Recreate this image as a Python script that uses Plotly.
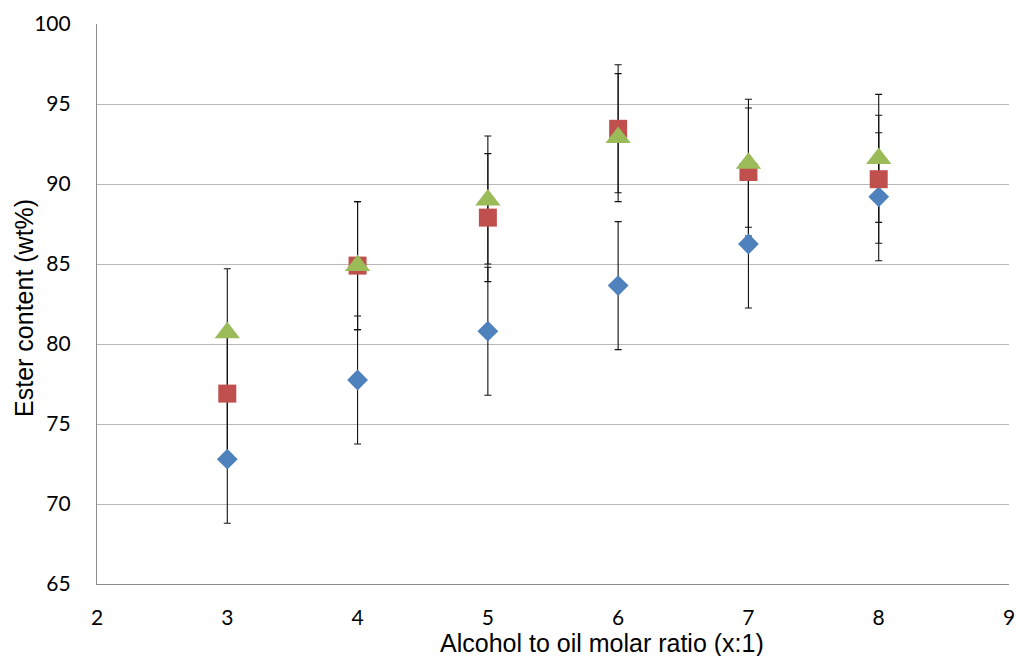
import plotly.graph_objects as go

ratios = [3, 4, 5, 6, 7, 8]
series_names = ["Series 1", "Series 2", "Series 3"]
blue_vals = [72.8, 77.75, 80.8, 83.65, 86.25, 89.2]
red_vals = [76.9, 84.9, 87.9, 93.45, 90.75, 90.3]
green_vals = [80.7, 84.9, 89.0, 92.9, 91.3, 91.6]
err_blue = [4, 4, 4, 4, 4, 4]
err_red = [4, 4, 4, 4, 4, 4]
err_green = [4, 4, 4, 4, 4, 4]
y_ticks = [65, 70, 75, 80, 85, 90, 95, 100]
x_ticks = [2, 3, 4, 5, 6, 7, 8, 9]
x_title = "Alcohol to oil molar ratio (x:1)"
y_title = "Ester content (wt%)"

colors = ["#4F81BD", "#C0504D", "#9BBB59"]
symbols = ["diamond", "square", "triangle-up"]
sizes = [16, 18, 22]
vals = [blue_vals, red_vals, green_vals]
errs = [err_blue, err_red, err_green]

fig = go.Figure()
# error bars first (so they sit below all markers)
for v, e in zip(vals, errs):
    fig.add_trace(go.Scatter(
        x=ratios, y=v, mode="markers",
        marker=dict(opacity=0, size=1),
        error_y=dict(type="data", array=e, visible=True, color="#111111",
                     thickness=1.1, width=3.5),
        showlegend=False, hoverinfo="skip"))
for name, v, c, s, sz in zip(series_names, vals, colors, symbols, sizes):
    fig.add_trace(go.Scatter(
        x=ratios, y=v, mode="markers", name=name,
        marker=dict(color=c, symbol=s, size=sz, line=dict(width=0)),
        showlegend=False))

title_font = dict(family="Liberation Sans, Arial, sans-serif", size=25, color="#000")
fig.add_annotation(
    text=x_title, xref="paper", yref="paper", x=0.554, y=-0.106,
    xanchor="center", yanchor="middle", showarrow=False, font=title_font)
fig.add_annotation(
    text=y_title, xref="paper", yref="paper", x=-0.080, y=0.493,
    xanchor="center", yanchor="middle", showarrow=False, textangle=-90,
    font=title_font)

fig.update_layout(
    width=1016, height=656,
    margin=dict(l=97, r=7, t=24, b=72),
    paper_bgcolor="white", plot_bgcolor="white",
    font=dict(family="Lato, Liberation Sans, sans-serif", size=21, color="#000"),
    xaxis=dict(range=[2, 9], tickvals=x_ticks, showgrid=False, zeroline=False,
               showline=True, linecolor="#8C8C8C", linewidth=1.2, ticks="",
               ticklabelstandoff=15, automargin=False),
    yaxis=dict(range=[65, 100], tickvals=y_ticks, showgrid=True, gridcolor="#B8B8B8",
               gridwidth=1.2, zeroline=False, showline=True, linecolor="#8C8C8C",
               linewidth=1.2, ticks="", ticklabelstandoff=21, automargin=False),
)

fig.write_html(
    "out.html",
    config={"displayModeBar": False},
    post_script="document.body.style.margin='0';document.body.style.overflow='hidden';",
)
